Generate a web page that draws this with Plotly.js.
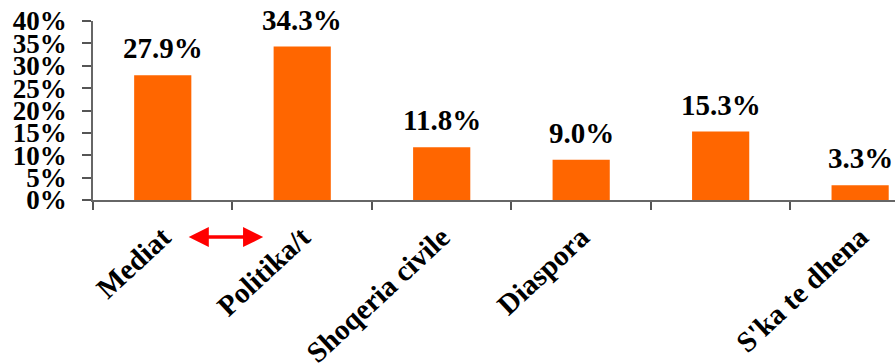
<!DOCTYPE html>
<html>
<head>
<meta charset="utf-8">
<script src="https://cdn.plot.ly/plotly-3.0.1.min.js"></script>
</head>
<body style="margin:0;background:#fff">
<div id="chart"></div>
<script>
// Categories (the fifth one carries no visible label)
const categories = ["Mediat", "Politika/t", "Shoqeria civile", "Diaspora", " ", "S'ka te dhena"];
// Share of responses, in percent
const shares = [27.9, 34.3, 11.8, 9.0, 15.3, 3.3];
// Y axis ticks
const yTicks = [0, 5, 10, 15, 20, 25, 30, 35, 40];

const SERIF = "Liberation Serif";

const trace = {
  type: "bar",
  x: categories,
  y: shares,
  marker: { color: "#FF6600", line: { width: 0 } },
  hoverinfo: "skip"
};

// value labels above each bar
const valueLabels = categories.map((c, i) => ({
  x: c, y: shares[i], xref: "x", yref: "y",
  text: shares[i].toFixed(1) + "%",
  showarrow: false, yanchor: "bottom", yshift: 9,
  font: { family: SERIF, size: 29, color: "#000", weight: "bold" }
}));

// red double-headed arrow between the first two labels
const arrow = {
  xref: "x", yref: "paper",
  x: 0.72, y: -0.207,
  axref: "pixel", ayref: "pixel", ax: -76, ay: 0,
  text: "", showarrow: true,
  arrowside: "end+start", arrowhead: 2, arrowsize: 1.15,
  arrowwidth: 3.5, arrowcolor: "#FF0000"
};

const layout = {
  width: 895, height: 363,
  margin: { l: 93, r: 0, t: 21, b: 163 },
  paper_bgcolor: "#fff", plot_bgcolor: "#fff",
  showlegend: false,
  bargap: 0.59,
  xaxis: {
    type: "category",
    range: [-0.5, 5.25],
    tickson: "boundaries",
    ticks: "outside", ticklen: 8, tickwidth: 1.5, tickcolor: "#555",
    showline: true, linecolor: "#666", linewidth: 1.5,
    showgrid: false, zeroline: false,
    tickangle: -43,
    ticklabelstandoff: 7,
    tickfont: { family: SERIF, size: 29, color: "#000", weight: "bold" }
  },
  yaxis: {
    range: [0, 40],
    tickvals: yTicks,
    ticktext: yTicks.map(v => v + "%"),
    ticks: "outside", ticklen: 9, tickwidth: 1.5, tickcolor: "#555",
    showline: true, linecolor: "#666", linewidth: 1.5,
    showgrid: false, zeroline: false,
    ticklabelstandoff: 10,
    tickfont: { family: SERIF, size: 27, color: "#000", weight: "bold" }
  },
  annotations: valueLabels.concat([arrow])
};

Plotly.newPlot("chart", [trace], layout, { displayModeBar: false });
</script>
</body>
</html>
